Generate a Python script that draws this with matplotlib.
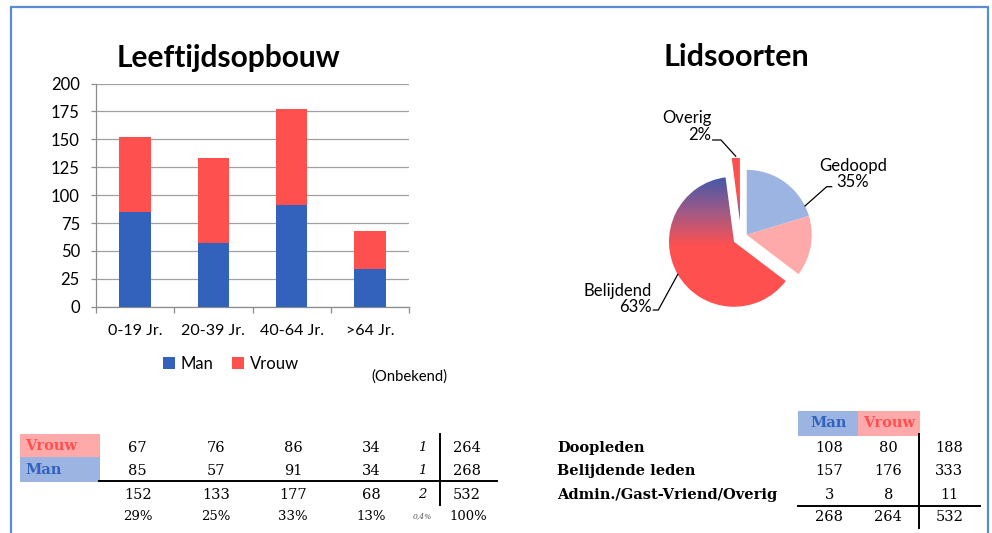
import numpy as np
import matplotlib.pyplot as plt
from matplotlib.patches import Wedge, Rectangle
from matplotlib.colors import LinearSegmentedColormap

plt.rcParams["font.family"] = ["Lato", "DejaVu Sans"]

# leeftijdsopbouw
age_groups = ["0-19 Jr.", "20-39 Jr.", "40-64 Jr.", ">64 Jr."]
man = [85, 57, 91, 34]
vrouw = [67, 76, 86, 34]
unknown_man = 1
unknown_vrouw = 1

# lidsoorten
member_types = ["Doopleden", "Belijdende leden", "Admin./Gast-Vriend/Overig"]
type_man = [108, 157, 3]
type_vrouw = [80, 176, 8]
pie_labels = ["Gedoopd", "Belijdend", "Overig"]

BLUE = "#3362BC"
RED = "#FF5050"
LIGHT_BLUE = "#9BB4E2"
PINK = "#FFAAAA"
W, H = 992, 533

fig = plt.figure(figsize=(W / 100, H / 100), dpi=100)
fig.patch.set_facecolor("white")

# overlay in pixel coordinates (y measured from top)
bg = fig.add_axes([0, 0, 1, 1])
bg.axis("off")


def Y(y):
    return H - y


# rand
bg.plot([11, 11, 988, 988], [Y(540), Y(6.5), Y(6.5), Y(540)], color="#5B8BD0", lw=1.6,
        solid_joinstyle="miter")

# ---------------- staafdiagram ----------------
ax = fig.add_axes([96 / W, (H - 306.7) / H, 313 / W, 223.2 / H])
ax.set_facecolor("none")
x = np.arange(len(age_groups))
b1 = ax.bar(x, man, width=0.4, color=BLUE, label="Man", zorder=3)
b2 = ax.bar(x, vrouw, width=0.4, bottom=man, color=RED, label="Vrouw", zorder=3)
ax.set_xlim(-0.5, 3.5)
ax.set_ylim(0, 200)
ax.set_yticks(range(0, 201, 25))
ax.grid(True, axis="y", color="#A0A0A0", lw=0.9, zorder=0)
for s in ["top", "right"]:
    ax.spines[s].set_visible(False)
for s in ["left", "bottom"]:
    ax.spines[s].set_color("#8C8C8C")
    ax.spines[s].set_linewidth(0.9)
ax.set_xticks(x)
ax.set_xticklabels(age_groups)
ax.set_xticks(np.arange(-0.5, 4, 1), minor=True)
ax.tick_params(axis="x", which="major", length=0, pad=12.5, labelsize=11.5)
ax.tick_params(axis="x", which="minor", length=4.2, color="#8C8C8C", width=0.9)
ax.tick_params(axis="y", length=3.6, color="#8C8C8C", width=0.9, pad=8, labelsize=12)
ax.legend(handles=[b1, b2], loc="center", bbox_to_anchor=(231 / W, 1 - 364 / H),
          bbox_transform=fig.transFigure, ncol=2, frameon=False, fontsize=12,
          handlelength=0.7, handleheight=0.7, handletextpad=0.35, columnspacing=1.1)
fig.text(228.5 / W, 1 - 66.7 / H, "Leeftijdsopbouw", ha="center", va="baseline",
         fontsize=21.5, fontweight="bold")
fig.text(409 / W, 1 - 377 / H, "(Onbekend)", ha="center", va="center", fontsize=10.7)

# ---------------- taartdiagram ----------------
fig.text(736 / W, 1 - 66.5 / H, "Lidsoorten", ha="center", va="baseline",
         fontsize=22, fontweight="bold")

vals = [type_man[0], type_vrouw[0], type_man[1] + type_vrouw[1], type_man[2] + type_vrouw[2]]
total = sum(vals)
bounds = 90 - 360 * np.cumsum([0] + vals) / total
cx, cy, r = 741, Y(237.7), 65
group_of = [0, 0, 1, 2]
explode = [6.4, 8.1, 16.7]
group_bounds = [(bounds[0], bounds[2]), (bounds[2], bounds[3]), (bounds[3], bounds[4])]
centers = []
for g, (a0, a1) in enumerate(group_bounds):
    mid = np.deg2rad((a0 + a1) / 2)
    centers.append((cx + explode[g] * np.cos(mid), cy + explode[g] * np.sin(mid), mid))

grad_cmap = LinearSegmentedColormap.from_list("rb", [RED, "#A25A85", "#4659A8"])
yy = np.linspace(cy - 80, cy + 80, 400)[:, None] * np.ones((1, 2))
for i in range(4):
    g = group_of[i]
    px, py, _ = centers[g]
    w = Wedge((px, py), r, bounds[i + 1], bounds[i], lw=0)
    if i == 0:
        w.set_facecolor(LIGHT_BLUE)
        bg.add_patch(w)
    elif i == 1:
        w.set_facecolor(PINK)
        bg.add_patch(w)
    else:
        w.set_facecolor("none")
        bg.add_patch(w)
        if i == 2:
            top, bot = Y(178), Y(246)
        else:
            top, bot = Y(214), Y(196)
        img = np.clip((yy - bot) / (top - bot), 0, 1)
        im = bg.imshow(img, cmap=grad_cmap, vmin=0, vmax=1, origin="lower",
                       extent=[cx - 80, cx + 80, cy - 80, cy + 80], aspect="auto",
                       interpolation="bilinear")
        im.set_clip_path(w)

# labels met verbindingslijnen
pct = [round(100 * (vals[0] + vals[1]) / total), round(100 * vals[2] / total),
       round(100 * vals[3] / total)]
label_pos = [(853, 174, "center"), (652, 299, "right"), (711.5, 126.5, "right")]
elbows = [[(826.7, 186.7), (831.7, 186.7)], [(658.3, 310), (653.3, 310)],
          [(721, 140), (712.7, 140)]]
for g in range(3):
    px, py, mid = centers[g]
    ex, ey = px + r * np.cos(mid), py + r * np.sin(mid)
    lx = [ex] + [p[0] for p in elbows[g]]
    ly = [ey] + [Y(p[1]) for p in elbows[g]]
    bg.plot(lx, ly, color="black", lw=0.9)
    tx, ty, ha = label_pos[g]
    bg.text(tx, Y(ty), f"{pie_labels[g]}\n{pct[g]}%", ha=ha, va="center",
            multialignment=ha, fontsize=12, linespacing=1.05)

# ---------------- tabel links ----------------
serif = "DejaVu Serif"
col_x = [137.7, 215.7, 293.3, 371]
bg.add_patch(Rectangle((20, Y(457.3)), 80, 23.6, color=PINK, lw=0))
bg.add_patch(Rectangle((20, Y(481.7)), 80, 24.4, color=LIGHT_BLUE, lw=0))
bg.text(25, Y(446.5), "Vrouw", color=RED, fontweight="bold", family=serif, fontsize=10.5,
        va="center")
bg.text(25, Y(470.5), "Man", color=BLUE, fontweight="bold", family=serif, fontsize=10.5,
        va="center")
group_tot = [m + v for m, v in zip(man, vrouw)]
grand = sum(group_tot) + unknown_man + unknown_vrouw
rows = [(vrouw, unknown_vrouw, 447.7), (man, unknown_man, 471)]
for vals_row, unk, ypos in rows:
    for cxx, v in zip(col_x, vals_row):
        bg.text(cxx, Y(ypos), str(v), ha="center", va="center", family=serif, fontsize=10.5)
    bg.text(422.7, Y(ypos), str(unk), ha="center", va="center", family=serif,
            fontsize=9.5, style="italic")
    bg.text(466.7, Y(ypos), str(sum(vals_row) + unk), ha="center", va="center",
            family=serif, fontsize=10.5)
for cxx, v in zip(col_x, group_tot):
    bg.text(cxx, Y(495), str(v), ha="center", va="center", family=serif, fontsize=10.5)
    bg.text(cxx, Y(516), f"{round(100 * v / grand)}%", ha="center", va="center",
            family=serif, fontsize=9.5)
bg.text(422.7, Y(495), str(unknown_man + unknown_vrouw), ha="center", va="center",
        family=serif, fontsize=9.5, style="italic")
bg.text(466.7, Y(495), str(grand), ha="center", va="center", family=serif, fontsize=10.5)
unk_pct = f"{100 * (unknown_man + unknown_vrouw) / grand:.1f}%".replace(".", ",")
bg.text(422.7, Y(516.5), unk_pct, ha="center", va="center", family=serif, fontsize=5.5,
        style="italic", color="#555555")
bg.text(468, Y(516), "100%", ha="center", va="center", family=serif, fontsize=9.5)
bg.plot([99, 497], [Y(480.5), Y(480.5)], color="black", lw=1.4)
bg.plot([439.5, 439.5], [Y(434), Y(505)], color="black", lw=1.4)

# ---------------- tabel rechts ----------------
rc = [829.3, 888.3, 949.3]
bg.add_patch(Rectangle((798.3, Y(435.7)), 60, 24.7, color=LIGHT_BLUE, lw=0))
bg.add_patch(Rectangle((858.3, Y(435.7)), 61.7, 24.7, color=PINK, lw=0))
bg.text(828.3, Y(423), "Man", color=BLUE, fontweight="bold", family=serif, fontsize=10.5,
        ha="center", va="center")
bg.text(889, Y(423), "Vrouw", color=RED, fontweight="bold", family=serif, fontsize=10.5,
        ha="center", va="center")
row_y = [447.7, 471.3, 495]
for name, m, v, ypos in zip(member_types, type_man, type_vrouw, row_y):
    bg.text(557.3, Y(ypos), name, fontweight="bold", family=serif, fontsize=10.5,
            va="center")
    for xx, val in zip(rc, [m, v, m + v]):
        bg.text(xx, Y(ypos), str(val), ha="center", va="center", family=serif, fontsize=10.5)
for xx, val in zip(rc, [sum(type_man), sum(type_vrouw), sum(type_man) + sum(type_vrouw)]):
    bg.text(xx, Y(517.3), str(val), ha="center", va="center", family=serif, fontsize=10.5)
bg.plot([798, 980], [Y(506), Y(506)], color="black", lw=1.4)
bg.plot([919, 919], [Y(434), Y(528)], color="black", lw=1.4)

bg.set_xlim(0, W)
bg.set_ylim(0, H)

fig.savefig("out.png", dpi=100)
